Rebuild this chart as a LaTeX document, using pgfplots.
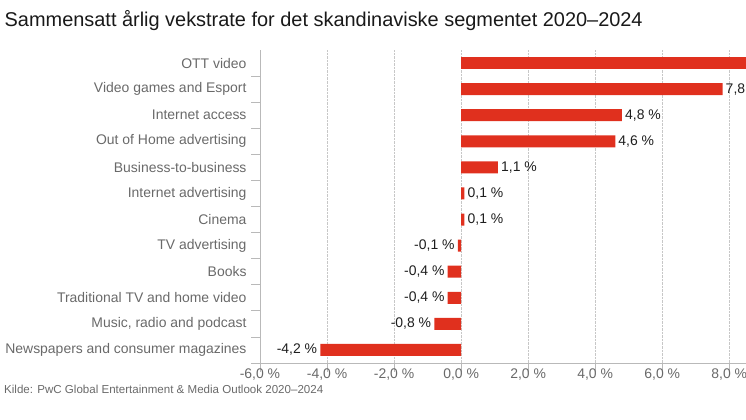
\documentclass[border=0pt]{standalone}
\usepackage{fontspec}
\setmainfont{Liberation Sans}
\usepackage{pgfplots}
\pgfplotsset{compat=1.18}
\definecolor{barred}{RGB}{224,48,30}
\definecolor{labgray}{RGB}{105,105,105}
\definecolor{axgray}{RGB}{185,185,185}
\definecolor{valblack}{RGB}{30,30,30}
\begin{document}
\begin{tikzpicture}[x=1bp,y=1bp]
\useasboundingbox (0,0) rectangle (746,419);
\node[anchor=base west, inner sep=0pt, font=\fontsize{20}{22}\selectfont, text=black!90] at (4.5,392) {Sammensatt årlig vekstrate for det skandinaviske segmentet 2020–2024};
\node[anchor=base west, inner sep=0pt, text=labgray, font=\fontsize{11.6}{14}\selectfont] at (4,26) {Kilde: PwC Global Entertainment \& Media Outlook 2020–2024};
\begin{axis}[
  at={(260bp,56bp)}, anchor=south west,
  scale only axis, width=486bp, height=313bp,
  xmin=-6, xmax=8.5, ymin=-0.5, ymax=11.5, y dir=reverse,
  xbar, bar width=12bp, bar shift=0pt,
  axis x line*=bottom, axis y line*=left,
  axis line style={draw=axgray, line width=0.8bp},
  tick align=outside, major tick length=9bp,
  tick style={draw=axgray, line width=0.8bp},
  xtick={-6,-4,-2,0,2,4,6,8},
  xticklabels={-6{,}0 \%,-4{,}0 \%,-2{,}0 \%,0{,}0 \%,2{,}0 \%,4{,}0 \%,6{,}0 \%,8{,}0 \%},
  xticklabel style={text=labgray, font=\fontsize{14}{16}\selectfont, yshift=4bp, inner sep=1bp},
  ytick={0.5,1.5,...,11.5},
  yticklabels={OTT video,Video games and Esport,Internet access,Out of Home advertising,Business-to-business,Internet advertising,Cinema,TV advertising,Books,Traditional TV and home video,{Music, radio and podcast},Newspapers and consumer magazines},
  yticklabel style={text=labgray, font=\fontsize{14}{16}\selectfont, yshift=13bp, xshift=-1bp},
  xmajorgrids, grid style={densely dotted, draw=black!22, line width=0.6bp},
  point meta=explicit symbolic,
  every node near coord/.append style={text=valblack, font=\fontsize{14}{16}\selectfont, inner sep=3bp},
  clip=true,
]
\addplot[fill=barred, draw=none] coordinates {(9.4,0)};
\addplot[fill=barred, draw=none, nodes near coords, nodes near coords align={horizontal},
  every node near coord/.append style={anchor=west}] coordinates {
  (7.8,1) [7{,}8 \%]
  (4.8,2) [4{,}8 \%]
  (4.6,3) [4{,}6 \%]
  (1.1,4) [1{,}1 \%]
  (0.1,5) [0{,}1 \%]
  (0.1,6) [0{,}1 \%]
};
\addplot[fill=barred, draw=none, nodes near coords, nodes near coords align={horizontal},
  every node near coord/.append style={anchor=east}] coordinates {
  (-0.1,7) [-0{,}1 \%]
  (-0.4,8) [-0{,}4 \%]
  (-0.4,9) [-0{,}4 \%]
  (-0.8,10) [-0{,}8 \%]
  (-4.2,11) [-4{,}2 \%]
};
\end{axis}
\end{tikzpicture}
\end{document}
